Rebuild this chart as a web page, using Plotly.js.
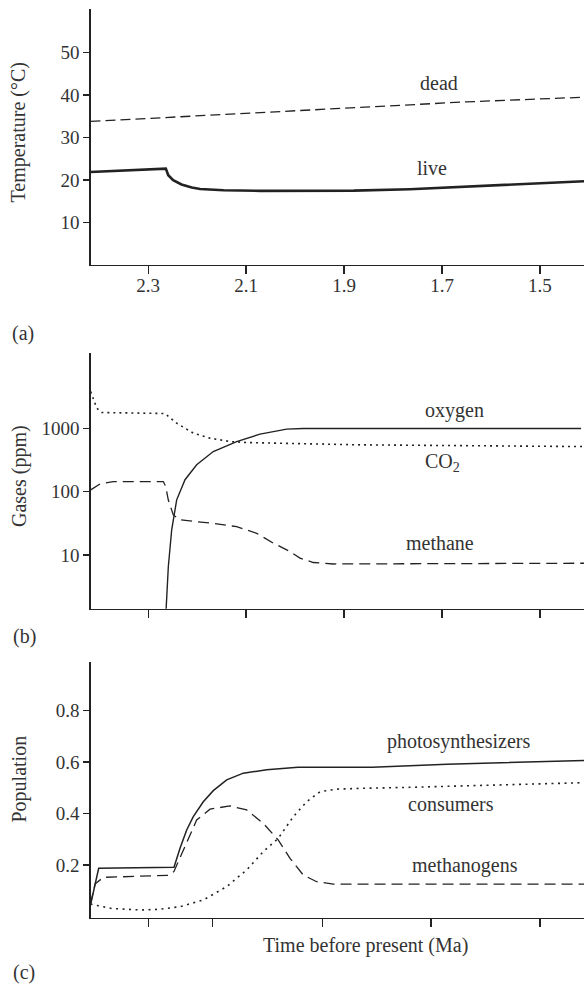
<!DOCTYPE html>
<html><head><meta charset="utf-8">
<script src="https://cdn.plot.ly/plotly-3.0.1.min.js"></script>
<style>html,body{margin:0;padding:0;background:#fff;} #chart{width:584px;height:984px;}</style>
</head><body><div id="chart"></div>
<script>
// ---- Panel (a): temperature (°C) vs time before present (Ma)
const tLive    = [2.4178, 2.264, 2.259, 2.249, 2.232, 2.211, 2.194, 2.146, 2.070, 1.994, 1.880, 1.766, 1.690, 1.550, 1.4101];
const tempLive = [21.9,   22.7,  21.15, 19.98, 18.96, 18.25, 17.9,  17.6,  17.45, 17.4,  17.5,  17.85, 18.25, 19.0,  19.7];
const tDead    = [2.4178, 2.1942, 1.900, 1.652, 1.4101];
const tempDead = [33.8,   35.15,  37.0,  38.4,  39.5];

// ---- Panel (b): gases (ppm)
const tOxygen = [2.2636, 2.2589, 2.2520, 2.2418, 2.2248, 2.2010, 2.1671, 2.1193, 2.0717, 2.0172, 1.9833, 1.4162];
const oxygen  = [1.3,    6.5,    25,     74.5,   155,    267,    433,    622,    815,    978,    1000,   1000];
const tCO2 = [2.4174, 2.4051, 2.3949, 2.2657, 2.2418, 2.2079, 2.1738, 2.1330, 2.0989, 2.0376, 1.8675, 1.4101];
const co2  = [3850,   2100,   1790,   1730,   1217,   845,    705,    622,    600,    587,    552,    518];
const tMethane = [2.4174, 2.3984, 2.3712, 2.2691, 2.2642, 2.2589, 2.2487, 2.2350, 2.2079, 2.1671, 2.1193, 2.0784, 2.0445, 2.0104, 1.9900, 1.9629, 1.9220, 1.8422, 1.4101];
const methane  = [107,    133,    145,    145,    121,    74,     43,     36,     34,     31.7,   28,     22,     15.4,   11.3,   8.9,    7.6,    7.2,    7.2,    7.4];

// ---- Panel (c): population
const tPhoto = [2.4174, 2.4011, 2.2473, 2.2350, 2.2214, 2.2079, 2.1875, 2.1671, 2.1397, 2.1058, 2.0580, 1.9941, 1.8422, 1.6898, 1.4101];
const photo  = [0.048,  0.187,  0.191,  0.265,  0.336,  0.388,  0.446,  0.489,  0.531,  0.557,  0.570,  0.580,  0.580,  0.592,  0.606];
const tMethanogens = [2.4178, 2.4086, 2.3917, 2.2569, 2.2473, 2.2214, 2.2010, 2.1738, 2.1330, 2.0989, 2.0650, 2.0343, 2.0104, 1.9833, 1.9559, 1.9220, 1.4101];
const methanogens  = [0.048,  0.126,  0.152,  0.160,  0.175,  0.290,  0.375,  0.417,  0.430,  0.414,  0.362,  0.297,  0.226,  0.161,  0.135,  0.126,  0.126];
const tConsumers = [2.4178, 2.3745, 2.3137, 2.2759, 2.2350, 2.1875, 2.1397, 2.0989, 2.0650, 2.0343, 2.0037, 1.9763, 1.9492, 1.9151, 1.8675, 1.7660, 1.4101];
const consumers  = [0.048,  0.031,  0.025,  0.028,  0.038,  0.064,  0.116,  0.181,  0.252,  0.304,  0.388,  0.446,  0.485,  0.495,  0.498,  0.502,  0.520];

// ---- Ticks
const xTicks      = [2.3, 2.1, 1.9, 1.7, 1.5];
const xTickLabels = ['2.3', '2.1', '1.9', '1.7', '1.5'];
const xTicksC     = [2.3, 2.1683, 1.9445, 1.7225, 1.5];
const yTicksA = [10, 20, 30, 40, 50];
const yTicksB = [10, 100, 1000];
const yLabelsB = ['10', '100', '1000'];
const yTicksC = [0.2, 0.4, 0.6, 0.8];
const yLabelsC = ['0.2', '0.4', '0.6', '0.8'];

const INK = '#222';
const TXT = '#333';
const FONT = 'Liberation Serif';

function tr(x, y, xa, ya, width, dash) {
  return {x: x, y: y, xaxis: xa, yaxis: ya, type: 'scatter', mode: 'lines',
          line: {color: INK, width: width, dash: dash}, hoverinfo: 'skip', showlegend: false};
}

const data = [
  tr(tDead, tempDead, 'x', 'y', 1.3, '10px,5px'),
  tr(tLive, tempLive, 'x', 'y', 2.6, 'solid'),
  tr(tCO2, co2, 'x2', 'y2', 1.6, '2px,4px'),
  tr(tMethane, methane, 'x2', 'y2', 1.3, '11px,6px'),
  tr(tOxygen, oxygen, 'x2', 'y2', 1.4, 'solid'),
  tr(tConsumers, consumers, 'x3', 'y3', 1.6, '2px,4.5px'),
  tr(tMethanogens, methanogens, 'x3', 'y3', 1.3, '11px,6px'),
  tr(tPhoto, photo, 'x3', 'y3', 1.5, 'solid')
];

const W = 584, H = 984;
const XD = [90.5 / W, 1];
function ydom(top, bottom) { return [1 - bottom / H, 1 - top / H]; }

function axisBase() {
  return {showline: true, linecolor: INK, linewidth: 1.3, ticks: 'outside',
    tickcolor: INK, tickwidth: 1.3, showgrid: false, zeroline: false,
    tickfont: {family: FONT, size: 19, color: TXT}, fixedrange: true};
}

function ann(text, px, py, size, angle) {
  return {text: text, x: px / W, y: 1 - py / H, xref: 'paper', yref: 'paper',
          xanchor: 'center', yanchor: 'middle', showarrow: false, textangle: angle || 0,
          font: {family: FONT, size: size, color: TXT}};
}

const layout = {
  width: W, height: H,
  margin: {l: 0, r: 0, t: 0, b: 0},
  paper_bgcolor: '#fff', plot_bgcolor: '#fff',
  showlegend: false,
  font: {family: FONT, color: TXT},
  xaxis: Object.assign(axisBase(), {domain: XD, anchor: 'y', range: [2.4178, 1.4101],
    tickvals: xTicks, ticktext: xTickLabels, ticklen: 8, ticklabelstandoff: -5}),
  yaxis: Object.assign(axisBase(), {domain: ydom(9.3, 265), anchor: 'x', range: [0, 60.2],
    tickvals: yTicksA, ticktext: yTicksA.map(String), ticklen: 6}),
  xaxis2: Object.assign(axisBase(), {domain: XD, anchor: 'y2', range: [2.4178, 1.4101],
    tickvals: xTicks, showticklabels: false, ticklen: 8}),
  yaxis2: Object.assign(axisBase(), {domain: ydom(353.3, 608.7), anchor: 'x2', type: 'log',
    range: [0.15, 4.19], tickvals: yTicksB, ticktext: yLabelsB, ticklen: 6}),
  xaxis3: Object.assign(axisBase(), {domain: XD, anchor: 'y3', range: [2.4178, 1.4101],
    tickvals: xTicksC, showticklabels: false, ticklen: 8}),
  yaxis3: Object.assign(axisBase(), {domain: ydom(662.3, 918), anchor: 'x3',
    range: [-0.006, 0.988], tickvals: yTicksC, ticktext: yLabelsC, ticklen: 6}),
  annotations: [
    ann('Temperature (°C)', 18.5, 133, 20, -90),
    ann('Gases (ppm)', 19, 476, 20, -90),
    ann('Population', 18.5, 779, 20, -90),
    ann('dead', 438.7, 83.3, 20),
    ann('live', 432, 168.3, 20),
    ann('oxygen', 455, 410, 20),
    ann('CO<sub>2</sub>', 442.5, 462, 20),
    ann('methane', 439.5, 543.3, 20),
    ann('photosynthesizers', 458.8, 741.7, 20),
    ann('consumers', 450.7, 804, 20),
    ann('methanogens', 464.8, 865, 20),
    ann('Time before present (Ma)', 365, 945, 20),
    ann('(a)', 22.5, 334, 20),
    ann('(b)', 24, 636, 20),
    ann('(c)', 23.5, 972, 20)
  ]
};

Plotly.newPlot('chart', data, layout, {displayModeBar: false, staticPlot: true});
</script>
</body></html>
